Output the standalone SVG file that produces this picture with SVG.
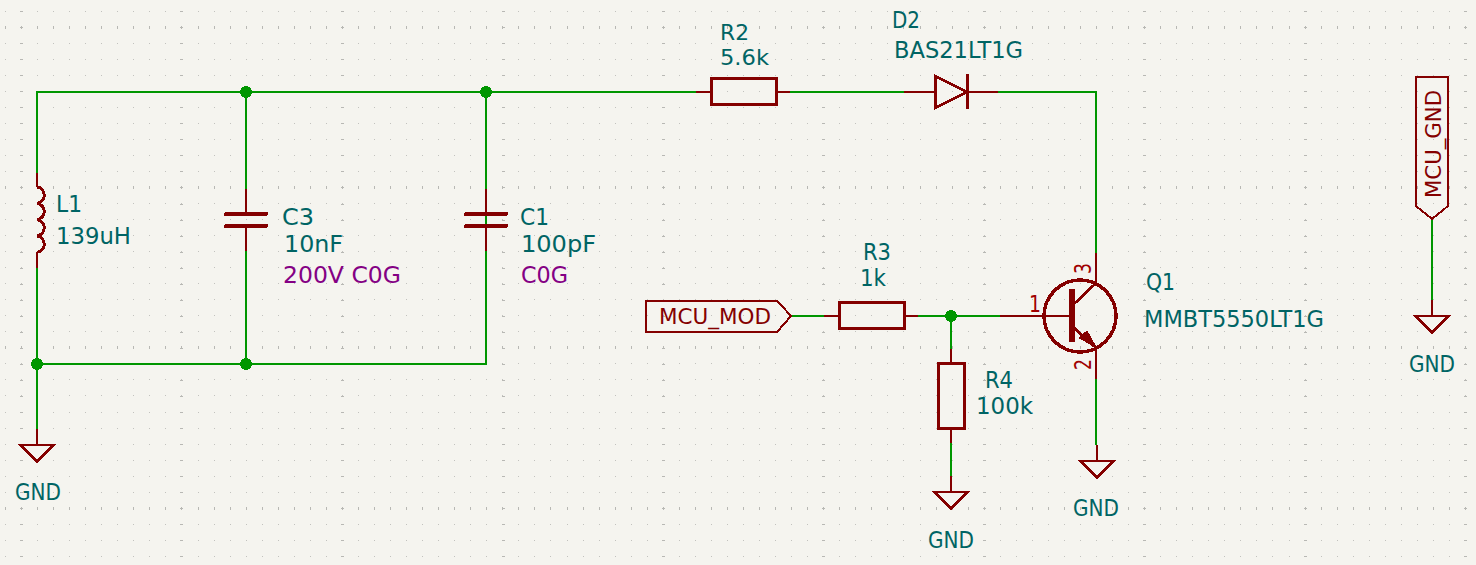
<svg xmlns="http://www.w3.org/2000/svg" width="1476" height="565" viewBox="0 0 1476 565">
<style>
path,rect,circle{shape-rendering:crispEdges}
.g{stroke:#c2c2be;fill:none;stroke-dasharray:1 15.044}
.m{stroke:#b8b8b4;fill:none;stroke-dasharray:1 15.044}
.w{stroke:#009600;stroke-width:2;fill:none}
.p{stroke:#840000;stroke-width:2;fill:none}
.d{stroke:#840000;stroke-width:2.600;fill:none}
.b{stroke:#840000;stroke-width:3;fill:none}
.j{fill:#009600}
text{font-family:"DejaVu Sans",sans-serif;font-size:23px;fill:#006464}
.s{font-size:21px}
.v{fill:#840084}
.l{fill:#840000;font-size:22px}
.n{fill:#a00000}
</style>
<defs>
<g id="gnd"><path class="p" d="M0 -16V0"/><path class="d" d="M-16.500 0H16.500L0 16.500Z"/></g>
</defs>
<rect width="1476" height="565" fill="#f5f4ef"/>
<g id="grid">
<path class="g" stroke-width="1" d="M5 11.500H1476M5 27.500H1476M5 43.500H1476M5 59.500H1476M5 75.500H1476M5 91.500H1476M5 107.500H1476M5 123.500H1476M5 139.500H1476M5 155.500H1476M5 171.500H1476M5 187.500H1476M5 203.500H1476M5 219.500H1476M5 235.500H1476M5 251.500H1476M5 267.500H1476M5 283.500H1476M5 299.500H1476M5 315.500H1476M5 331.500H1476M5 347.500H1476M5 363.500H1476M5 379.500H1476M5 395.500H1476M5 412.500H1476M5 428.500H1476M5 444.500H1476M5 460.500H1476M5 476.500H1476M5 492.500H1476M5 508.500H1476M5 524.500H1476M5 540.500H1476M5 556.500H1476"/>
<path class="m" stroke-width="3" d="M5 27.500H1476M5 187.500H1476M5 347.500H1476M5 508.500H1476"/>
<path class="m" stroke-width="3" d="M21.500 11V565M181.500 11V565M342.500 11V565M503 11V565M663.500 11V565M823.500 11V565M984 11V565M1144.500 11V565M1305 11V565M1465.500 11V565"/>
</g>
<g id="connectors">
<path class="w" d="M37 173V92H696M790 92H904M998 92H1096V253M246 92V189M246 251V364M486 92V364H37M37 268V429M791 316H824M918 316H1000M951 316V349M951 443V476M1096 379V445M1432 219V301"/>
<circle class="j" cx="246" cy="92" r="6"/>
<circle class="j" cx="486" cy="92" r="6"/>
<circle class="j" cx="37" cy="364" r="6"/>
<circle class="j" cx="246" cy="364" r="6"/>
<circle class="j" cx="951" cy="316" r="6"/>
</g>
<g id="L1">
<path class="p" d="M37 173V187M37 252V268"/>
<path class="b" d="M37 187A8.200 8.200 0 0 1 37 203.300A8.200 8.200 0 0 1 37 219.600A8.200 8.200 0 0 1 37 235.900A8.200 8.200 0 0 1 37 252.200"/>
<text x="56" y="212" textLength="26" lengthAdjust="spacingAndGlyphs">L1</text>
<text x="56" y="244" textLength="75" lengthAdjust="spacingAndGlyphs">139uH</text>
</g>
<g id="C3">
<path class="p" d="M246 189V214M246 226V251"/>
<path d="M226 214H266M226 226H266" stroke="#840000" stroke-width="4" stroke-linecap="round" fill="none"/>
<text x="282" y="225" textLength="32" lengthAdjust="spacingAndGlyphs">C3</text>
<text x="284" y="252" textLength="59" lengthAdjust="spacingAndGlyphs">10nF</text>
<text class="v" x="283" y="283" textLength="118" lengthAdjust="spacingAndGlyphs">200V C0G</text>
</g>
<g id="C1">
<path class="p" d="M486 189V214M486 226V251"/>
<path d="M466 214H506M466 226H506" stroke="#840000" stroke-width="4" stroke-linecap="round" fill="none"/>
<text x="520" y="225" textLength="29" lengthAdjust="spacingAndGlyphs">C1</text>
<text x="521" y="252" textLength="75" lengthAdjust="spacingAndGlyphs">100pF</text>
<text class="v" x="521" y="283" textLength="47" lengthAdjust="spacingAndGlyphs">C0G</text>
</g>
<g id="R2">
<path class="p" d="M696 92H711M776 92H790"/>
<rect class="b" x="711.500" y="78.500" width="65" height="26"/>
<text class="s" x="720" y="40" textLength="29" lengthAdjust="spacingAndGlyphs">R2</text>
<text class="s" x="720" y="65" textLength="49" lengthAdjust="spacingAndGlyphs">5.6k</text>
</g>
<g id="D2">
<path class="p" d="M904 92H935M967 92H998"/>
<path class="b" d="M935 76V108L967 92ZM967 74V109"/>
<text x="892" y="28" textLength="28" lengthAdjust="spacingAndGlyphs">D2</text>
<text x="894" y="58" textLength="129" lengthAdjust="spacingAndGlyphs">BAS21LT1G</text>
</g>
<g id="R3">
<path class="p" d="M824 316H839M904 316H918"/>
<rect class="b" x="839.500" y="302.500" width="65" height="26"/>
<text x="863" y="260" textLength="28" lengthAdjust="spacingAndGlyphs">R3</text>
<text x="860" y="286" textLength="26" lengthAdjust="spacingAndGlyphs">1k</text>
</g>
<g id="R4">
<path class="p" d="M951 349V364M951 428V443"/>
<rect class="b" x="938.500" y="363.500" width="26" height="65"/>
<text x="985" y="388" textLength="28" lengthAdjust="spacingAndGlyphs">R4</text>
<text x="976" y="414" textLength="57" lengthAdjust="spacingAndGlyphs">100k</text>
</g>
<g id="Q1">
<path class="p" d="M1096 253V283M1096 348V379M1000 316H1072"/>
<path class="d" d="M1072 306L1096 283M1072 326L1096 348"/>
<circle cx="1080" cy="316" r="36" fill="none" stroke="#840000" stroke-width="3.500"/>
<path d="M1072 289V342" stroke="#840000" stroke-width="6" fill="none"/>
<path d="M1079 338L1087 331L1096 347Z" fill="#840000" stroke="#840000"/>
<text class="n" x="1029" y="312" textLength="12" lengthAdjust="spacingAndGlyphs">1</text>
<text class="n" transform="translate(1091 274) rotate(-90)" textLength="11" lengthAdjust="spacingAndGlyphs">3</text>
<text class="n" transform="translate(1091 370) rotate(-90)" textLength="11" lengthAdjust="spacingAndGlyphs">2</text>
<text x="1146" y="290" textLength="29" lengthAdjust="spacingAndGlyphs">Q1</text>
<text x="1144" y="327" textLength="180" lengthAdjust="spacingAndGlyphs">MMBT5550LT1G</text>
</g>
<g id="MCU_MOD">
<path class="p" d="M645.500 300.500H777L791 316L777 332H645.500Z"/>
<text class="l" x="659" y="324" textLength="112" lengthAdjust="spacingAndGlyphs">MCU_MOD</text>
</g>
<g id="MCU_GND">
<path class="p" d="M1416 77H1448V206L1432 219L1416 206Z"/>
<text class="l" transform="translate(1441 198) rotate(-90)" textLength="108" lengthAdjust="spacingAndGlyphs">MCU_GND</text>
</g>
<g id="GND1"><use href="#gnd" x="37" y="445"/><text x="15" y="500" textLength="46" lengthAdjust="spacingAndGlyphs">GND</text></g>
<g id="GND2"><use href="#gnd" x="951" y="492"/><text x="928" y="548" textLength="46" lengthAdjust="spacingAndGlyphs">GND</text></g>
<g id="GND3"><use href="#gnd" x="1097" y="461"/><text x="1073" y="516" textLength="46" lengthAdjust="spacingAndGlyphs">GND</text></g>
<g id="GND4"><use href="#gnd" x="1432" y="316"/><text x="1409" y="372" textLength="46" lengthAdjust="spacingAndGlyphs">GND</text></g>
</svg>
